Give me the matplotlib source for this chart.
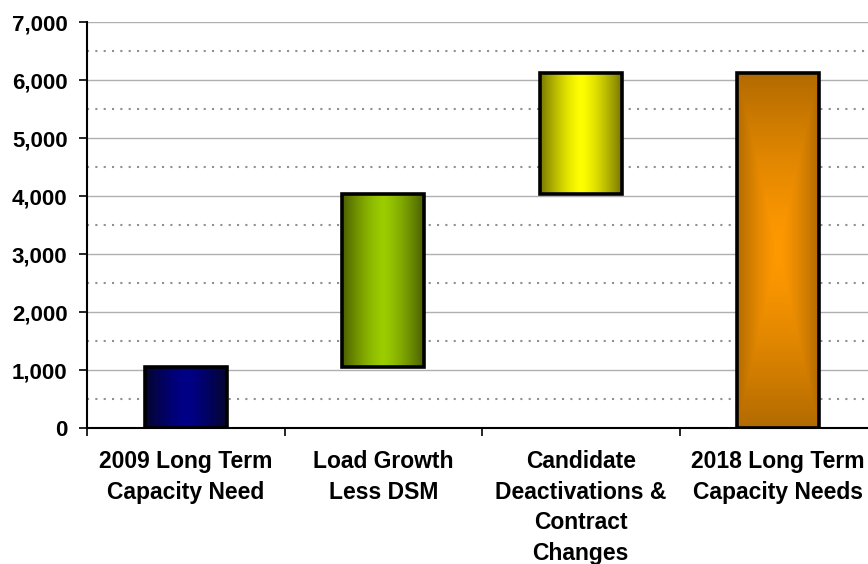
import numpy as np
import matplotlib
matplotlib.use('Agg')
import matplotlib.pyplot as plt
from matplotlib.ticker import FuncFormatter, MultipleLocator

plt.rcParams['font.family'] = ['Liberation Sans', 'DejaVu Sans']
plt.rcParams['font.weight'] = 'bold'

# ---------- data ----------
categories = ['2009 Long Term\nCapacity Need',
              'Load Growth\nLess DSM',
              'Candidate\nDeactivations &\nContract\nChanges',
              '2018 Long Term\nCapacity Needs']
steps = [1050, 2980, 2090]          # start value + two increments
total = sum(steps)                   # final bar

heights = steps + [total]
bottoms = [0, steps[0], steps[0] + steps[1], 0]

# gradient colours: (centre, edge)
centre_cols = [(0, 0, 135), (155, 205, 0), (255, 255, 0), (255, 153, 0)]
edge_cols = [(5, 5, 45), (75, 95, 0), (120, 120, 0), (178, 106, 0)]
radial = [False, False, False, True]

fig = plt.figure(figsize=(8.68, 5.64), dpi=100)
ax = fig.add_axes([87/868, 136/564, 790/868, 406/564])

bar_w = 0.415
x = np.arange(len(categories))


def gradient(c_in, c_out, rad, nx=120, ny=200):
    c_in = np.array(c_in) / 255.0
    c_out = np.array(c_out) / 255.0
    u = np.abs(np.linspace(-1, 1, nx))
    if rad:
        v = np.abs(np.linspace(-1, 1, ny))
        t = np.maximum(u[None, :], v[:, None])
    else:
        t = np.tile(u, (ny, 1))
    t = t ** 1.4
    return c_in[None, None, :] * (1 - t[..., None]) + c_out[None, None, :] * t[..., None]


for i in range(len(categories)):
    x0, x1 = x[i] - bar_w / 2, x[i] + bar_w / 2
    y0, y1 = bottoms[i], bottoms[i] + heights[i]
    img = gradient(centre_cols[i], edge_cols[i], radial[i])
    ax.imshow(img, extent=(x0, x1, y0, y1), aspect='auto', zorder=2,
              interpolation='bilinear')
    ax.bar(x[i], heights[i], bottom=bottoms[i], width=bar_w, facecolor='none',
           edgecolor='black', linewidth=2.6, zorder=3)

ax.set_xlim(-0.5, len(categories) - 0.5)
ax.set_ylim(0, 7000)

# y axis
ax.yaxis.set_major_locator(MultipleLocator(1000))
ax.yaxis.set_minor_locator(MultipleLocator(500))
ax.yaxis.set_major_formatter(FuncFormatter(lambda v, p: f'{int(v):,}'))
ax.tick_params(axis='y', which='major', length=6, width=1.2, labelsize=16, pad=8)
ax.tick_params(axis='y', which='minor', length=0)
ax.yaxis.grid(True, which='major', color='#b0b0b0', linewidth=1.0)
ax.yaxis.grid(True, which='minor', color='#909090', linewidth=1.5,
              linestyle=(0, (1, 3)))
ax.set_axisbelow(True)

# x axis: boundary ticks, labels at centres
ax.set_xticks(np.arange(len(categories) + 1) - 0.5)
ax.set_xticklabels([])
ax.set_xticks(x, categories, minor=True)
ax.tick_params(axis='x', which='major', length=6, width=1.2)
ax.tick_params(axis='x', which='minor', length=0, labelsize=16.5, pad=16)
for lbl in ax.get_xticklabels(minor=True):
    lbl.set_linespacing(1.42)

for s in ('top', 'right'):
    ax.spines[s].set_visible(False)
for s in ('left', 'bottom'):
    ax.spines[s].set_linewidth(1.5)

fig.savefig('out.png', dpi=100)
